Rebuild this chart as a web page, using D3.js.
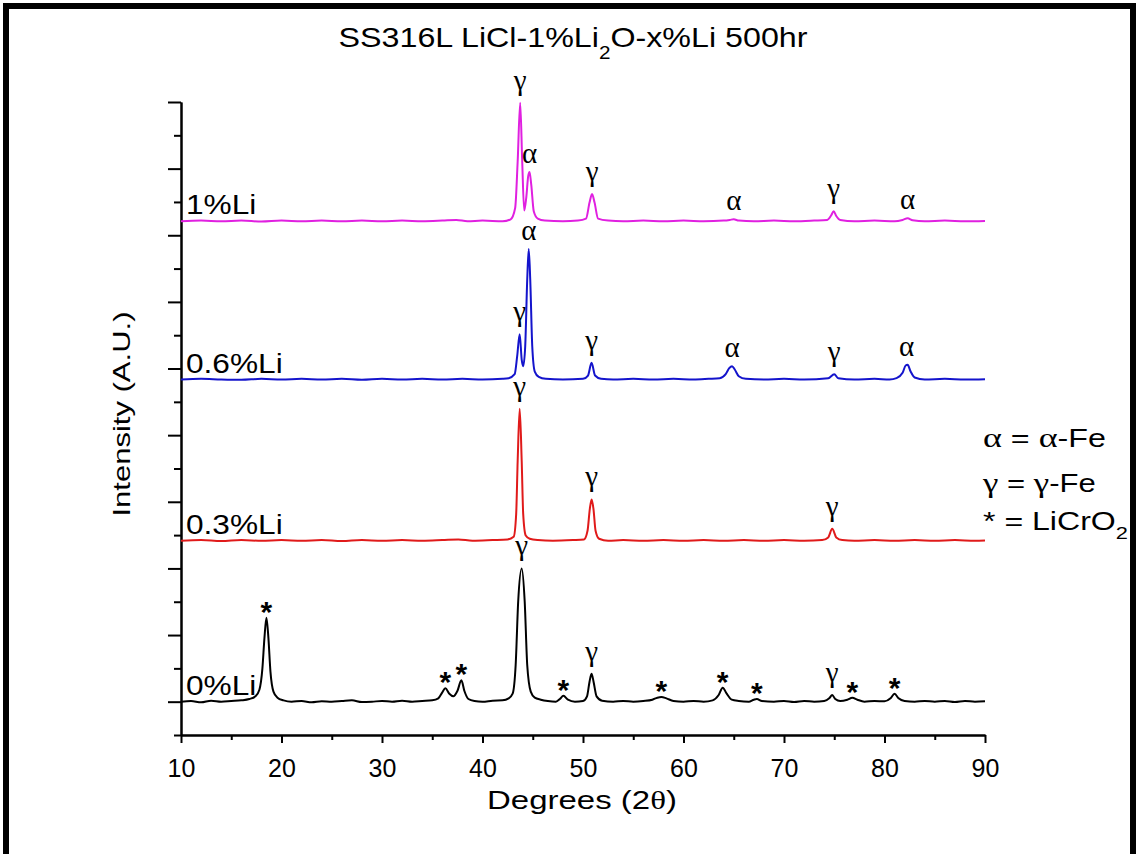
<!DOCTYPE html>
<meta charset="utf-8">
<style>

body {
  margin: 0;
  background: #fff;
}

* {
  font-family: Arial, "Liberation Sans", sans-serif;
}

.trace {
  fill: none;
  stroke-width: 2px;
  stroke-linejoin: round;
}

.axis path, .axis line {
  stroke: #000;
  stroke-width: 2px;
}

.axis text {
  font-size: 25px;
  fill: #000;
}

.greek {
  font-family: "Liberation Serif", "Times New Roman", serif;
}

</style>
<body>

<script src="https://cdnjs.cloudflare.com/ajax/libs/d3/7.8.5/d3.min.js"></script>
<script>

// stacked XRD patterns, bottom to top
var seriesNames = ["0%Li", "0.3%Li", "0.6%Li", "1%Li"];
var seriesColors = ["#000000", "#e01a1a", "#1414cc", "#e020e0"];
var seriesOffsets = [0, 2.415, 4.835, 7.21];

// [2theta, intensity above own baseline]
var li0 = [
  [10,0.00],[11,0.01],[12,-0.01],[13,0.015],[14,0.00],[15,0.01],[16,0.02],[16.8,0.04],[17.4,0.08],[17.8,0.18],
  [18.1,0.5],[18.3,0.95],[18.5,1.26],[18.7,0.95],[18.9,0.45],[19.2,0.15],[19.6,0.06],[20.2,0.02],
  [21,0.00],[22,0.01],[23,-0.01],[24,0.005],[25,0.00],[26,0.01],[27,0.02],[28,-0.005],[29,0.00],[30,0.01],
  [31,0.00],[32,0.015],[33,0.00],[34,0.01],[35,0.02],
  [35.6,0.05],[36.0,0.14],[36.3,0.20],[36.7,0.12],[37.1,0.08],[37.5,0.16],[37.9,0.32],[38.2,0.16],[38.6,0.04],[39.2,0.01],
  [40,0.00],[41,0.015],[42,0.02],[42.6,0.05],[43.0,0.12],[43.3,0.55],[43.55,1.5],[43.9,2.00],[44.2,1.5],[44.45,0.55],
  [44.8,0.15],[45.2,0.06],[45.8,0.03],[46.5,0.01],
  [47.3,0.00],[47.7,0.04],[48.05,0.09],[48.5,0.03],[49.2,0.00],[50,0.01],[50.4,0.08],[50.65,0.3],[50.85,0.42],
  [51.05,0.3],[51.35,0.08],[51.9,0.015],
  [53,0.00],[54,0.01],[55,0.00],[56,0.01],[56.9,0.03],[57.4,0.06],[57.8,0.07],[58.3,0.05],[59.0,0.01],
  [60,0.00],[61,0.01],[62,0.00],[62.9,0.02],[63.5,0.1],[63.9,0.21],[64.3,0.12],[64.8,0.03],[65.5,0.01],
  [66.5,0.00],[67.0,0.03],[67.3,0.04],[67.8,0.01],[69,0.00],[70,0.01],[71,-0.005],[72,0.01],[73,0.00],[74,0.01],
  [74.5,0.05],[74.8,0.10],[75.1,0.04],[75.6,0.01],[76.3,0.03],[76.8,0.06],[77.3,0.03],[78.0,0.00],[79,0.01],[80,0.005],
  [80.6,0.05],[81.0,0.12],[81.4,0.05],[82.0,0.01],[83,0.00],[84,0.01],[85,0.00],[86,0.01],[87,-0.005],[88,0.01],
  [89,0.00],[90,0.005]
];

var li03 = [
  [10,0.00],[12,0.01],[14,-0.005],[16,0.01],[18,0.00],[20,0.01],[22,0.00],[24,0.01],[26,-0.005],[28,0.01],
  [30,0.00],[32,0.01],[34,0.00],[36,0.01],[37.6,0.02],[39,0.00],[41,0.01],[42.5,0.02],
  [43.1,0.06],[43.35,0.4],[43.5,1.2],[43.7,1.98],[43.9,1.2],[44.05,0.4],[44.3,0.08],[44.7,0.03],[45.5,0.01],
  [47,0.00],[49,0.01],[50.1,0.02],[50.45,0.15],[50.68,0.48],[50.86,0.62],[51.04,0.48],[51.25,0.15],[51.6,0.03],
  [52.5,0.00],[54,0.01],[56,0.00],[58,0.01],[60,0.00],[62,0.01],[64,0.00],[66,0.01],[68,0.00],[70,0.01],[72,0.00],
  [73.8,0.01],[74.4,0.05],[74.8,0.18],[75.2,0.05],[75.8,0.01],[77,0.00],[79,0.01],[81,0.00],[83,0.01],[85,0.00],
  [87,0.01],[89,0.00],[90,0.005]
];

var li06 = [
  [10,0.00],[12,0.01],[14,0.00],[16,-0.005],[18,0.01],[20,0.00],[22,0.01],[24,0.00],[26,0.01],[28,-0.005],
  [30,0.01],[32,0.00],[34,0.01],[36,0.00],[38,0.01],[40,0.00],[42,0.01],[42.6,0.02],
  [43.2,0.08],[43.45,0.35],[43.7,0.68],[43.9,0.3],[44.05,0.2],[44.25,0.5],[44.45,1.5],[44.6,1.96],[44.75,1.5],
  [44.95,0.5],[45.2,0.12],[45.6,0.04],[46.3,0.01],
  [48,0.00],[50,0.01],[50.5,0.06],[50.85,0.25],[51.2,0.06],[51.8,0.01],[53,0.00],[55,0.01],[57,0.00],[59,0.01],
  [61,0.00],[62.5,0.01],[63.6,0.02],[64.2,0.08],[64.55,0.17],[64.83,0.2],[65.1,0.15],[65.5,0.05],[66.2,0.01],
  [68,0.00],[70,0.01],[72,0.00],[74.4,0.02],[75.0,0.08],[75.4,0.02],[77,0.00],[79,0.01],[80.5,0.00],
  [81.2,0.02],[81.8,0.1],[82.1,0.21],[82.3,0.22],[82.6,0.12],[83.0,0.03],[84,0.00],[86,0.01],[88,0.00],[90,0.005]
];

var li1 = [
  [10,0.00],[12,0.01],[14,0.00],[16,0.01],[18,-0.005],[20,0.01],[22,0.00],[24,0.01],[26,0.00],[28,0.01],
  [30,0.00],[32,0.01],[34,0.00],[36,0.01],[37.4,0.02],[38.5,0.00],[40,0.01],[42,0.00],[42.8,0.03],
  [43.25,0.2],[43.5,0.9],[43.75,1.78],[43.95,0.9],[44.15,0.16],[44.35,0.35],[44.55,0.68],[44.68,0.74],[44.85,0.55],
  [45.1,0.15],[45.5,0.04],[46.2,0.01],
  [48,0.00],[49.5,0.01],[50.3,0.04],[50.65,0.28],[50.9,0.41],[51.15,0.28],[51.5,0.04],[52.5,0.01],[54,0.00],
  [56,0.01],[58,0.00],[60,0.01],[62,0.00],[64,0.01],[64.6,0.02],[65.0,0.03],[65.5,0.01],[67,0.00],[69,0.01],
  [71,0.00],[73,0.01],[74.3,0.02],[74.7,0.09],[74.94,0.15],[75.2,0.08],[75.6,0.02],[77,0.00],[79,0.01],
  [81,0.00],[81.8,0.02],[82.3,0.045],[82.8,0.015],[84,0.00],[86,0.01],[88,0.00],[90,0.005]
];

var seriesData = [li0, li03, li06, li1];

// phase marks: [series index, 2theta, symbol]
var peakLabels = [
  [0,18.5,"*"],[0,36.3,"*"],[0,37.9,"*"],[0,43.9,"γ"],[0,48.05,"*"],[0,50.85,"γ"],[0,57.8,"*"],
  [0,63.9,"*"],[0,67.3,"*"],[0,74.8,"γ"],[0,76.8,"*"],[0,81.0,"*"],
  [1,43.7,"γ"],[1,50.86,"γ"],[1,74.8,"γ"],
  [2,43.7,"γ"],[2,44.6,"α"],[2,50.85,"γ"],[2,64.83,"α"],[2,75.0,"γ"],[2,82.2,"α"],
  [3,43.75,"γ"],[3,44.68,"α"],[3,50.9,"γ"],[3,65.0,"α"],[3,74.94,"γ"],[3,82.3,"α"]
];

var xTicks = [10, 20, 30, 40, 50, 60, 70, 80, 90];
var xMinorTicks = [15, 25, 35, 45, 55, 65, 75, 85];
var yTicks = [0, 1, 2, 3, 4, 5, 6, 7, 8, 9];
var yMinorTicks = [-0.5, 0.5, 1.5, 2.5, 3.5, 4.5, 5.5, 6.5, 7.5, 8.5];

var titleText = "SS316L LiCl-1%Li";
var xLabel = "Degrees (2";
var yLabel = "Intensity (A.U.)";

var margin = {top: 102, left: 181},
    width = 804,
    height = 633;

var svg = d3.select("body").append("svg")
    .attr("width", 1139)
    .attr("height", 854);

// frame round the picture (bottom edge falls off the page)
svg.append("path")
    .attr("d", "M6,870V6H1133V870")
    .attr("fill", "none")
    .attr("stroke", "#000")
    .attr("stroke-width", 6);

var g = svg.append("g")
    .attr("transform", "translate(" + margin.left + "," + margin.top + ")");

var x = d3.scaleLinear().domain([10, 90]).range([0, width]);
var y = d3.scaleLinear().domain([-0.5, 9]).range([height, 0]);

// stretch a text horizontally to the width it has in the picture
function fit(text, tx, ty, w, rot) {
  var bw = text.node().getBBox().width;
  text.attr("transform", "translate(" + tx + "," + ty + ")" + (rot ? "rotate(-90)" : "") +
    "scale(" + (w / bw) + ",1)");
}

// axes
g.append("g")
    .attr("class", "axis")
    .attr("transform", "translate(0," + height + ")")
    .call(d3.axisBottom(x).tickValues(xTicks).tickSize(8).tickSizeOuter(0).tickPadding(16));

g.append("g")
    .attr("class", "axis")
    .attr("transform", "translate(0," + height + ")")
    .call(d3.axisBottom(x).tickValues(xMinorTicks).tickSize(5).tickSizeOuter(0).tickFormat(""));

g.append("g")
    .attr("class", "axis")
    .call(d3.axisLeft(y).tickValues(yTicks).tickSize(13).tickSizeOuter(0).tickFormat(""));

g.append("g")
    .attr("class", "axis")
    .call(d3.axisLeft(y).tickValues(yMinorTicks).tickSize(7).tickSizeOuter(0).tickFormat(""));

// traces
var line = d3.line()
    .x(function(d) { return x(d[0]); })
    .y(function(d) { return y(d[1]); })
    .curve(d3.curveMonotoneX);

seriesData.forEach(function(data, i) {
  var shifted = data.map(function(d) { return [d[0], d[1] + seriesOffsets[i]]; });
  g.append("path")
      .datum(shifted)
      .attr("class", "trace")
      .attr("stroke", seriesColors[i])
      .attr("d", line);

  g.append("text")
      .attr("font-size", "28px")
      .attr("transform", "translate(5," + (y(seriesOffsets[i]) - 7) + ")scale(1.13,1)")
      .text(seriesNames[i]);
});

// phase symbols above the peaks
peakLabels.forEach(function(p) {
  var near = seriesData[p[0]].filter(function(d) { return Math.abs(d[0] - p[1]) <= 0.25; });
  var top = y(d3.max(near, function(d) { return d[1]; }) + seriesOffsets[p[0]]);
  var t = g.append("text")
      .attr("x", x(p[1]))
      .attr("text-anchor", "middle")
      .text(p[2]);
  if (p[2] == "*") {
    t.attr("y", top + 4).attr("font-size", "30px").attr("font-weight", "bold");
  } else {
    t.attr("class", "greek").attr("font-size", "29px")
      .attr("y", top - (p[2] == "α" ? 9 : 13));
  }
});

// title
var title = svg.append("text")
    .attr("text-anchor", "middle")
    .attr("font-size", "28px");
title.append("tspan").text(titleText);
title.append("tspan").attr("font-size", "18px").attr("dy", 12).text("2");
title.append("tspan").attr("dy", -12).text("O-x%Li 500hr");
fit(title, 573, 47, 469);

// axis titles
var xt = svg.append("text")
    .attr("text-anchor", "middle")
    .attr("font-size", "26px");
xt.append("tspan").text(xLabel);
xt.append("tspan").attr("class", "greek").text("θ");
xt.append("tspan").text(")");
fit(xt, 582, 809, 190);

var yt = svg.append("text")
    .attr("text-anchor", "middle")
    .attr("font-size", "24px")
    .text(yLabel);
fit(yt, 130, 414, 205, true);

// key to the symbols
var key = [
  [["α", true], [" = ", false], ["α", true], ["-Fe", false]],
  [["γ", true], [" = ", false], ["γ", true], ["-Fe", false]],
  [["* = LiCrO", false], ["2", false, true]]
];
var keyY = [447, 492, 530];
var keyW = [123, 114, 145];
key.forEach(function(parts, i) {
  var t = svg.append("text").attr("font-size", "25px");
  parts.forEach(function(p) {
    var s = t.append("tspan").text(p[0]);
    if (p[1]) s.attr("class", "greek").attr("font-size", "28px");
    if (p[2]) s.attr("font-size", "17px").attr("dy", 9);
  });
  fit(t, 983, keyY[i], keyW[i]);
});

</script>
</body>
</html>
